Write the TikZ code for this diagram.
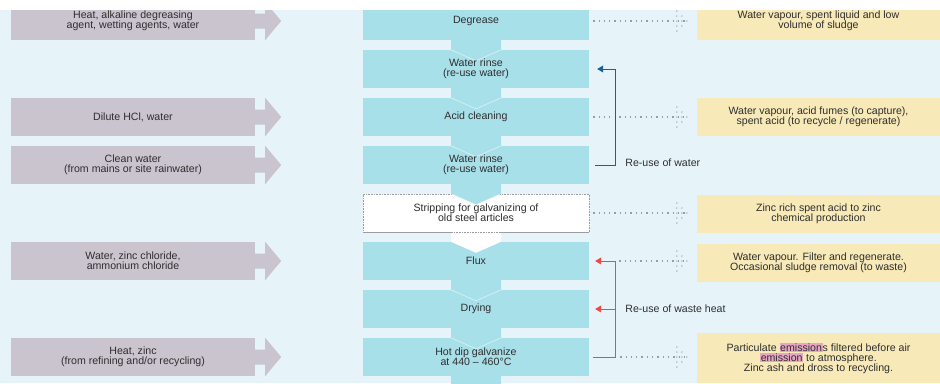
\documentclass[tikz,border=0pt]{standalone}
\usepackage{fontspec}
\setmainfont{Liberation Sans}
\usetikzlibrary{arrows.meta,backgrounds}

\definecolor{bgblue}{HTML}{E6F4FA}
\definecolor{procfill}{HTML}{A8E0EA}
\definecolor{infill}{HTML}{C9C4CE}
\definecolor{outfill}{HTML}{F7E9B8}
\definecolor{dotgray}{HTML}{9A9EA3}
\definecolor{txtgray}{HTML}{2E2E2E}
\definecolor{waterblue}{HTML}{1F5F98}
\definecolor{heatred}{HTML}{EE4848}
\definecolor{hlpink}{HTML}{E8A6C4}

\newcommand{\hlword}[1]{{\setlength{\fboxsep}{0.6pt}\colorbox{hlpink}{#1}}}

\tikzset{
  boxtext/.style={font=\fontsize{10.6}{10}\selectfont, text=txtgray, align=center, inner sep=0pt},
  procbox/.style={boxtext, minimum width=226pt, minimum height=38pt},
  inbox/.style={boxtext, fill=infill, minimum width=244pt, minimum height=38pt},
  outbox/.style={boxtext, fill=outfill, minimum width=243pt, minimum height=38pt},
  dotline/.style={draw=dotgray, line width=1.3pt, dash pattern=on 1.3pt off 4pt},
  dotborder/.style={draw=dotgray, line width=0.6pt, densely dotted},
  reusewater/.style={draw=waterblue, line width=0.9pt, -{Triangle[width=7pt,length=6pt]}},
  reuseheat/.style={draw=heatred, line width=0.9pt, -{Triangle[width=7pt,length=6pt]}},
  reuselabel/.style={font=\fontsize{10.6}{10}\selectfont, text=txtgray, anchor=west, inner sep=0pt},
  dothead/.pic={
    \foreach \dx/\dy in {-10/-10,-10/-5,-10/0,-10/5,-10/10,-5/-5,-5/0,-5/5,0/0}
      \fill[dotgray] (\dx,\dy) circle (0.75pt);
  }
}

\begin{document}
\begin{tikzpicture}[x=1pt,y=-1pt]
  \useasboundingbox (0,0) rectangle (940,383);
  \begin{scope}
  \clip (0,10) rectangle (940,383);

  % process steps, one row every 48pt (filled on the background layer)
  \node[procbox] (degrease) at (476,21) {Degrease};
  \node[procbox] (rinsea) at (476,69) {Water rinse\\(re-use water)};
  \node[procbox] (acid) at (476,117) {Acid cleaning};
  \node[procbox] (rinseb) at (476,165) {Water rinse\\(re-use water)};
  \node[procbox] (strip) at (476,213) {Stripping for galvanizing of\\old steel articles};
  \node[procbox] (flux) at (476,261) {Flux};
  \node[procbox] (drying) at (476,309) {Drying};
  \node[procbox] (galv) at (476,357) {Hot dip galvanize\\at 440 – 460°C};

  % inputs on the left
  \node[inbox] (inDegrease) at (133,21) {Heat, alkaline degreasing\\agent, wetting agents, water};
  \node[inbox] (inAcid) at (133,117) {Dilute HCl, water};
  \node[inbox] (inRinse) at (133,165) {Clean water\\(from mains or site rainwater)};
  \node[inbox] (inFlux) at (133,261) {Water, zinc chloride,\\ammonium chloride};
  \node[inbox] (inGalv) at (133,357) {Heat, zinc\\(from refining and/or recycling)};

  % outputs on the right
  \node[outbox] (outDegrease) at (818.5,21) {Water vapour, spent liquid and low\\volume of sludge};
  \node[outbox] (outAcid) at (818.5,117) {Water vapour, acid fumes (to capture),\\spent acid (to recycle / regenerate)};
  \node[outbox] (outStrip) at (818.5,214) {Zinc rich spent acid to zinc\\chemical production};
  \node[outbox] (outFlux) at (818.5,263) {Water vapour. Filter and regenerate.\\Occasional sludge removal (to waste)};
  \node[outbox, minimum height=50pt] (outGalv) at (818.5,358) {Particulate \hlword{emission}s filtered before air\\\hlword{emission} to atmosphere.\\Zinc ash and dross to recycling.};

  % arrow heads of the input bars
  \foreach \n in {inDegrease,inAcid,inRinse,inFlux,inGalv}
    \fill[infill] ([yshift=7.5pt]\n.east) -- ([xshift=10pt,yshift=7.5pt]\n.east) -- ([xshift=10pt]\n.north east)
      -- ([xshift=26pt]\n.east) -- ([xshift=10pt]\n.south east) -- ([xshift=10pt,yshift=-7.5pt]\n.east)
      -- ([yshift=-7.5pt]\n.east) -- cycle;
  \end{scope}

  % step boxes and flow chevrons, under the step texts
  \begin{scope}[on background layer]
    \fill[white] (0,0) rectangle (940,383);
    \clip (0,10) rectangle (940,383);
    \fill[bgblue] (0,10) rectangle (940,383);
    \foreach \n in {degrease,rinsea,acid,rinseb,flux,drying,galv}
      \fill[procfill] (\n.south west) rectangle (\n.north east);
    \filldraw[fill=white, dotborder] (strip.south west) rectangle (strip.north east);
    \foreach \a/\b in {degrease/rinsea,rinsea/acid,acid/rinseb,rinseb/strip,flux/drying,drying/galv} {
      \fill[procfill] ([xshift=-25pt]\a.south) -- ([xshift=-25pt]\b.north) -- ([yshift=-11pt]\b.north)
        -- ([xshift=25pt]\b.north) -- ([xshift=25pt]\a.south) -- cycle;
      \draw[white, opacity=0.6, line width=0.6pt] ([xshift=-25pt]\b.north) -- ([yshift=-11pt]\b.north) -- ([xshift=25pt]\b.north);
    }
    \fill[white] ([xshift=-25pt]strip.south) -- ([xshift=-25pt]flux.north) -- ([yshift=-11pt]flux.north)
      -- ([xshift=25pt]flux.north) -- ([xshift=25pt]strip.south) -- cycle;
    \draw[dotborder] (strip.south west) -- (strip.south east);
    \fill[procfill] ([xshift=-25pt]galv.south) rectangle ([xshift=25pt,yshift=-10pt]galv.south);
  \end{scope}

  % dotted leaders to the outputs
  \coordinate (waterbus) at ([xshift=26pt]rinseb.east);
  \coordinate (heatbus) at ([xshift=26pt]galv.east);
  \coordinate (heatjoin) at (heatbus |- drying.east);
  \foreach \p/\o in {degrease/outDegrease,acid/outAcid,strip/outStrip,flux/outFlux,galv/outGalv}
    \path (\p.east -| \o.west) ++(-10,0) coordinate (tip-\p);
  \draw[dotline] ([xshift=4pt]degrease.east) -- (tip-degrease);
  \draw[dotline, shorten >=4pt] ([xshift=4pt]acid.east) -- (acid.east -| waterbus);
  \draw[dotline, shorten <=4pt] (acid.east -| waterbus) -- (tip-acid);
  \draw[dotline] ([xshift=4pt]strip.east) -- (tip-strip);
  \draw[dotline, shorten <=4pt] (flux.east -| heatbus) -- (tip-flux);
  \draw[dotline, shorten <=5pt] (heatbus) -- (tip-galv);
  \foreach \p in {degrease,acid,strip,flux,galv}
    \pic at (tip-\p) {dothead};

  % re-use loops
  \draw[reusewater] ([xshift=6pt]rinseb.east) -- (waterbus) |- ([xshift=8pt]rinsea.east);
  \node[reuselabel] (waterlabel) at ([xshift=10pt,yshift=2pt]waterbus) {Re-use of water};
  \draw[reuseheat] ([xshift=4pt]galv.east) -- (heatbus) |- ([xshift=6pt]flux.east);
  \draw[reuseheat] (heatjoin) -- ([xshift=6pt]drying.east);
  \node[reuselabel] (heatlabel) at ([xshift=10pt]heatjoin) {Re-use of waste heat};
\end{tikzpicture}
\end{document}
